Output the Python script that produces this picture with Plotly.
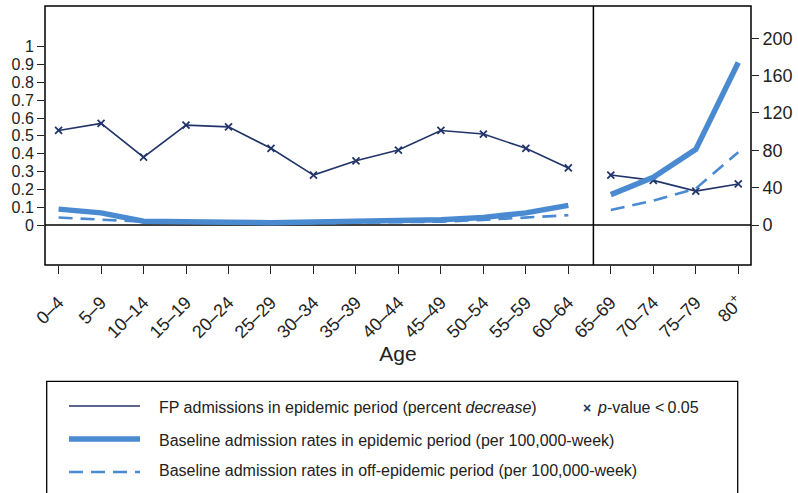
import plotly.graph_objects as go

# Age groups shown on the horizontal axis
age_groups = ["0–4", "5–9", "10–14", "15–19", "20–24", "25–29", "30–34", "35–39",
              "40–44", "45–49", "50–54", "55–59", "60–64", "65–69", "70–74", "75–79",
              "80<sup>+</sup>"]

# FP admissions in epidemic period, fraction decrease (left axis)
fp_decrease = [0.53, 0.57, 0.38, 0.56, 0.55, 0.43, 0.28, 0.36, 0.42, 0.53, 0.51, 0.43, 0.32,
               0.28, 0.25, 0.19, 0.23]

# Baseline admission rates per 100,000-week (right axis)
baseline_epidemic = [17, 13, 4, 3, 3, 2.5, 3, 3.5, 4, 5.5, 8, 13, 21,
                     32.5, 51, 81, 174]
baseline_off_epidemic = [8, 5.5, 3.5, 2.5, 2, 2, 2, 2.5, 3, 3.5, 5.5, 8, 10.5,
                         16, 26, 39, 78]

# Index where the older age panel begins
split = 13

left_ticks = [0, 0.1, 0.2, 0.3, 0.4, 0.5, 0.6, 0.7, 0.8, 0.9, 1]
left_tick_text = ["0", "0.1", "0.2", "0.3", "0.4", "0.5", "0.6", "0.7", "0.8", "0.9", "1"]
right_ticks = [0, 40, 80, 120, 160, 200]

NAVY = "#22356a"
BLUE = "#4a8ad1"
TEXT = "#222222"
FONT = "Liberation Sans, Arial, Helvetica, sans-serif"
DASH = "14px,8px"

W, H = 798, 493
L, R, T, B = 45, 751, 6, 265  # plot frame in pixels


def px(x):
    return (x - L) / (R - L)


def py(y):
    return (B - y) / (B - T)


fig = go.Figure()
x_all = list(range(len(age_groups)))

for seg in (slice(0, split), slice(split, None)):
    xs = x_all[seg]
    fig.add_trace(go.Scatter(
        x=xs, y=baseline_off_epidemic[seg], yaxis="y2", mode="lines",
        line=dict(color=BLUE, width=2.6, dash=DASH), showlegend=False))
    fig.add_trace(go.Scatter(
        x=xs, y=baseline_epidemic[seg], yaxis="y2", mode="lines",
        line=dict(color=BLUE, width=5.5), showlegend=False))
    fig.add_trace(go.Scatter(
        x=xs, y=fp_decrease[seg], yaxis="y", mode="lines+markers",
        line=dict(color=NAVY, width=1.6),
        marker=dict(symbol="x-thin", size=7, line=dict(color=NAVY, width=1.8)),
        showlegend=False))

shapes = [
    # zero line
    dict(type="line", xref="paper", yref="y", x0=0, x1=1, y0=0, y1=0,
         line=dict(color="black", width=1.5), layer="below"),
    # panel divider
    dict(type="line", xref="x", yref="paper", x0=12.59, x1=12.59, y0=0, y1=1,
         line=dict(color="black", width=1.5)),
    # frame
    dict(type="rect", xref="paper", yref="paper", x0=0, x1=1, y0=0, y1=1,
         line=dict(color="black", width=1.5)),
    # legend box
    dict(type="rect", xref="paper", yref="paper", x0=px(46.7), x1=px(737.7),
         y0=py(500), y1=py(381.3), line=dict(color="black", width=1.3)),
    # legend samples
    dict(type="line", xref="paper", yref="paper", x0=px(69), x1=px(140),
         y0=py(406), y1=py(406), line=dict(color=NAVY, width=1.6)),
    dict(type="line", xref="paper", yref="paper", x0=px(69), x1=px(140),
         y0=py(439), y1=py(439), line=dict(color=BLUE, width=5.5)),
    dict(type="line", xref="paper", yref="paper", x0=px(69), x1=px(140),
         y0=py(472), y1=py(472), line=dict(color=BLUE, width=2.6, dash=DASH)),
]

legend_text = [
    (157, 407, "FP admissions in epidemic period (percent <i>decrease</i>)"),
    (157, 440, "Baseline admission rates in epidemic period (per 100,000-week)"),
    (157, 470, "Baseline admission rates in off-epidemic period (per 100,000-week)"),
    (595, 407, "<i>p</i>-value <\u20090.05"),
]
annotations = [
    dict(xref="paper", yref="paper", x=px(x), y=py(y), text=t, showarrow=False,
         xanchor="left", yanchor="middle", font=dict(family=FONT, size=16, color=TEXT))
    for x, y, t in legend_text
]
annotations.append(dict(xref="paper", yref="paper", x=px(587), y=py(408), text="<b>×</b>",
                        showarrow=False, xanchor="center", yanchor="middle",
                        font=dict(family=FONT, size=14, color=NAVY)))

fig.update_layout(
    width=W, height=H,
    margin=dict(l=L, r=W - R, t=T, b=H - B),
    paper_bgcolor="white", plot_bgcolor="white",
    font=dict(family=FONT, size=17, color=TEXT),
    xaxis=dict(
        range=[-0.32, 16.3], tickmode="array", tickvals=x_all, ticktext=age_groups,
        tickangle=-45, ticks="outside", ticklen=8, tickwidth=1.3, tickcolor=TEXT,
        ticklabelstandoff=11,
        showgrid=False, zeroline=False, showline=False,
        tickfont=dict(size=18),
        title=dict(text="Age", font=dict(size=21), standoff=0),
    ),
    yaxis=dict(
        range=[-0.2243, 1.228], tickmode="array", tickvals=left_ticks, ticktext=left_tick_text,
        ticks="outside", ticklen=7, tickwidth=1.3, tickcolor=TEXT,
        showgrid=False, zeroline=False, showline=False, tickfont=dict(size=16),
    ),
    yaxis2=dict(
        range=[-42.85, 234.6], overlaying="y", side="right", tickmode="array",
        tickvals=right_ticks, ticks="outside", ticklen=7, tickwidth=1.3, tickcolor=TEXT,
        showgrid=False, zeroline=False, showline=False, tickfont=dict(size=18),
    ),
    shapes=shapes,
    annotations=annotations,
)

fig.write_html("out.html")
